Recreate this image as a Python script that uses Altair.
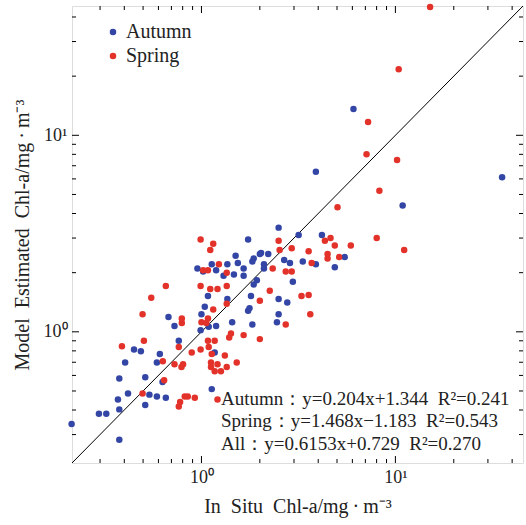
import altair as alt
import pandas as pd

# ---------------- data ----------------
autumn_x = [6.08, 3.89, 35.5, 10.9, 2.50, 1.74, 3.17, 4.18, 1.50, 2.00, 2.03, 2.21, 1.86, 1.83,
            1.54, 2.67, 2.86, 3.33, 3.89, 5.48, 4.87, 1.13, 1.36, 0.953, 1.02, 1.19, 1.65, 2.10,
            2.10, 1.30, 1.47, 1.65, 1.93, 2.96, 1.86, 1.08, 1.80, 1.36, 2.50, 2.77, 1.04, 1.77,
            1.74, 1.00, 2.50, 0.676, 1.44, 2.45, 0.726, 1.09, 1.19, 1.83, 0.99, 0.764, 0.449,
            0.487, 0.610, 1.17, 0.404, 0.589, 0.377, 0.513, 0.63, 0.418, 0.539, 0.589, 0.655,
            0.371, 1.13, 0.513, 0.377, 0.296, 0.323, 0.214, 0.377]
autumn_y = [13.6, 6.53, 6.12, 4.39, 3.39, 2.95, 3.11, 3.11, 2.44, 2.49, 2.52, 2.49, 2.36, 2.28,
            2.24, 2.32, 2.24, 2.28, 2.21, 2.40, 2.13, 2.21, 2.21, 2.10, 2.03, 2.06, 2.10, 2.21,
            2.10, 1.93, 1.96, 1.93, 1.83, 1.80, 1.74, 1.52, 1.52, 1.47, 1.47, 1.41, 1.34, 1.32,
            1.28, 1.23, 1.23, 1.19, 1.12, 1.12, 1.07, 1.06, 1.07, 1.09, 1.02, 0.90, 0.813,
            0.796, 0.772, 0.785, 0.698, 0.698, 0.578, 0.587, 0.556, 0.486, 0.479, 0.469, 0.462,
            0.453, 0.511, 0.424, 0.403, 0.383, 0.383, 0.340, 0.282]

spring_x = [15.1, 10.4, 7.23, 7.10, 10.2, 8.27, 5.03, 0.99, 8.01, 2.50, 1.15, 4.63, 4.33, 4.87,
            5.89, 11.1, 1.11, 2.53, 2.92, 3.57, 3.70, 4.47, 4.47, 5.13, 1.23, 1.02, 1.08, 2.33,
            2.72, 2.92, 1.35, 0.655, 0.99, 1.11, 1.21, 1.35, 2.25, 0.551, 3.28, 3.57, 2.00, 1.35,
            1.15, 0.497, 3.64, 0.792, 0.792, 1.08, 1.00, 1.06, 2.72, 0.389, 0.505, 0.764, 0.891,
            0.99, 1.09, 1.08, 1.17, 1.42, 1.39, 1.65, 2.00, 1.13, 1.32, 0.632, 0.726, 0.804,
            0.789, 1.12, 1.21, 1.52, 1.12, 1.35, 1.17, 1.26, 0.642, 0.497, 0.82, 0.85, 0.924,
            0.776, 0.764, 1.21]
spring_y = [45.0, 21.7, 11.7, 8.02, 7.48, 5.22, 4.30, 2.95, 3.00, 2.91, 2.81, 3.00, 2.91, 2.75,
            2.75, 2.61, 2.61, 2.61, 2.66, 2.57, 2.24, 2.49, 2.36, 2.40, 2.21, 2.06, 2.06, 2.10,
            2.03, 2.03, 2.00, 1.71, 1.71, 1.65, 1.65, 1.71, 1.62, 1.49, 1.52, 1.54, 1.44, 1.39,
            1.30, 1.23, 1.23, 1.17, 1.11, 1.17, 1.12, 1.11, 1.09, 0.845, 0.90, 0.838, 0.785,
            0.813, 0.838, 0.90, 0.90, 0.98, 0.936, 0.962, 0.918, 0.772, 0.757, 0.708, 0.684, 0.684,
            0.663, 0.698, 0.684, 0.698, 0.663, 0.663, 0.630, 0.630, 0.567, 0.486, 0.469, 0.469,
            0.462, 0.439, 0.417, 0.453]

seasons = ["Autumn", "Spring"]
season_colors = ["#3346A6", "#E3322A"]

axis_domain = [0.215, 45.5]
one_to_one = [0.1, 100.0]

major_ticks = [1, 10]
minor_ticks = [0.3, 0.4, 0.5, 0.6, 0.7, 0.8, 0.9, 2, 3, 4, 5, 6, 7, 8, 9, 20, 30, 40]

SP = "\u2002"
equations = [
    "Autumn\uff1ay=0.204x+1.344" + SP + "R\u00b2=0.241",
    "Spring\uff1ay=1.468x\u22121.183" + SP + "R\u00b2=0.543",
    "All\uff1ay=0.6153x+0.729" + SP + "R\u00b2=0.270",
]

x_title = "In" + SP + "Situ" + SP + "Chl-a/mg\u2009\u00b7\u2009m\u207b\u00b3"
y_title = "Model" + SP + "Estimated" + SP + "Chl-a/mg\u2009\u00b7\u2009m\u207b\u00b3"

# ---------------- build tables ----------------
pts = pd.DataFrame({
    "x": autumn_x + spring_x,
    "y": autumn_y + spring_y,
    "season": ["Autumn"] * len(autumn_x) + ["Spring"] * len(spring_x),
})
line_df = pd.DataFrame({"x": one_to_one, "y": one_to_one})
maj_df = pd.DataFrame({"t": major_ticks})
min_df = pd.DataFrame({"t": minor_ticks})

W, H = 451, 457
SERIF = "Liberation Serif"

xscale = alt.Scale(type="log", domain=axis_domain, nice=False)
yscale = alt.Scale(type="log", domain=axis_domain, nice=False)

label_expr = "datum.value == 1 ? '10\u2070' : (datum.value == 10 ? '10\u00b9' : '')"

x_axis = alt.Axis(values=major_ticks, labelExpr=label_expr, ticks=False, domain=False, grid=False,
                  labelFont=SERIF, labelFontSize=18, labelColor="#222", labelPadding=5,
                  title=x_title, titleFont=SERIF, titleFontSize=20, titleFontWeight="normal",
                  titleColor="#222", titlePadding=10)
y_axis = alt.Axis(values=major_ticks, labelExpr=label_expr, ticks=False, domain=False, grid=False,
                  labelFont=SERIF, labelFontSize=18, labelColor="#222", labelPadding=5,
                  title=y_title, titleFont=SERIF, titleFontSize=20, titleFontWeight="normal",
                  titleColor="#222", titlePadding=11)

diag = alt.Chart(line_df).mark_line(color="black", strokeWidth=1, clip=True).encode(
    x=alt.X("x:Q", scale=xscale, axis=x_axis),
    y=alt.Y("y:Q", scale=yscale, axis=y_axis),
)

points = alt.Chart(pts).mark_circle(size=42, opacity=1).encode(
    x=alt.X("x:Q", scale=xscale),
    y=alt.Y("y:Q", scale=yscale),
    color=alt.Color("season:N",
                    scale=alt.Scale(domain=seasons, range=season_colors),
                    legend=alt.Legend(title=None, orient="none", legendX=31, legendY=16,
                                      labelFont=SERIF, labelFontSize=20, labelColor="#222",
                                      symbolType="circle", symbolSize=42, symbolStrokeWidth=0,
                                      labelOffset=3, rowPadding=4, padding=0)),
)

def tick_layer(df, length, side):
    base = alt.Chart(df).mark_rule(color="black", strokeWidth=1)
    if side == "bottom":
        return base.encode(x=alt.X("t:Q", scale=xscale), y=alt.value(H), y2=alt.value(H - length))
    if side == "top":
        return base.encode(x=alt.X("t:Q", scale=xscale), y=alt.value(0), y2=alt.value(length))
    if side == "left":
        return base.encode(y=alt.Y("t:Q", scale=yscale), x=alt.value(0), x2=alt.value(length))
    return base.encode(y=alt.Y("t:Q", scale=yscale), x=alt.value(W), x2=alt.value(W - length))

ticks = []
for side in ["bottom", "top", "left", "right"]:
    ticks.append(tick_layer(maj_df, 7, side))
    ticks.append(tick_layer(min_df, 4, side))

eq_baselines = [399, 421, 444]
eq_layers = []
for label, base_y in zip(equations, eq_baselines):
    eq_layers.append(
        alt.Chart(pd.DataFrame({"label": [label]})).mark_text(
            align="left", baseline="alphabetic", font=SERIF, fontSize=19, color="#222"
        ).encode(x=alt.value(149), y=alt.value(base_y), text="label:N")
    )

chart = alt.layer(diag, points, *ticks, *eq_layers).properties(
    width=W, height=H,
    autosize=alt.AutoSizeParams(type="none"),
    padding={"left": 72, "top": 6, "right": 3, "bottom": 62},
).configure_view(stroke="black", strokeWidth=2).configure(background="white")

chart.save("out.html", embed_options={"renderer": "svg", "actions": False})
